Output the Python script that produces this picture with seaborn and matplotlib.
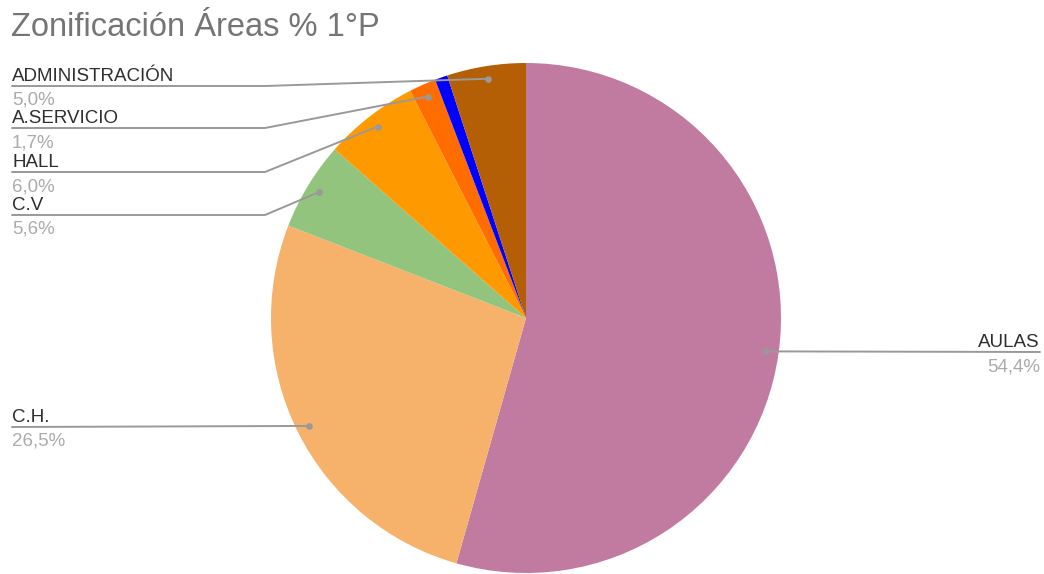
import matplotlib
matplotlib.use("Agg")
import matplotlib.pyplot as plt
import seaborn as sns
import numpy as np
from matplotlib.lines import Line2D

sns.set_theme(style="white")
plt.rcParams['font.family'] = ['Liberation Sans', 'DejaVu Sans']

categories = ["AULAS", "C.H.", "C.V", "HALL", "A.SERVICIO", "OTROS", "ADMINISTRACIÓN"]
values = [54.4, 26.5, 5.6, 6.0, 1.7, 0.8, 5.0]
pct_labels = ["54,4%", "26,5%", "5,6%", "6,0%", "1,7%", "", "5,0%"]
colors = ["#C27BA0", "#F6B26B", "#93C47D", "#FF9900", "#FF6D01", "#0000FF", "#B45F06"]
show_label = [True, True, True, True, True, False, True]

W, H = 1044, 574
fig = plt.figure(figsize=(W / 100, H / 100), dpi=100)
fig.patch.set_facecolor("white")

def fpx(x, y):
    return (x / W, 1 - y / H)

cx, cy, r = 526, 318, 255
ax = fig.add_axes([(cx - r) / W, 1 - (cy + r) / H, 2 * r / W, 2 * r / H])
wedges, _ = ax.pie(values, colors=colors, startangle=90, counterclock=False,
                   radius=1, wedgeprops=dict(linewidth=0))
ax.set_xlim(-1, 1)
ax.set_ylim(-1, 1)
ax.set_aspect("equal")
ax.axis("off")

fig.text(*fpx(11, 36), "Zonificación Áreas % 1°P", fontsize=23.5, color="#757575",
         ha="left", va="baseline")

# label layout (pixel positions): (side, line_y, bend_x)
layout = {
    "AULAS": ("right", 352, None),
    "C.H.": ("left", 427, None),
    "C.V": ("left", 215, 265),
    "HALL": ("left", 172, 265),
    "A.SERVICIO": ("left", 128, 265),
    "ADMINISTRACIÓN": ("left", 86, 265),
}

inv = fig.transFigure.inverted()
line_col = "#999999"
for w, name, pct, show in zip(wedges, categories, pct_labels, show_label):
    if not show:
        continue
    mid = np.deg2rad((w.theta1 + w.theta2) / 2)
    px_pt = ax.transData.transform((0.95 * np.cos(mid), 0.95 * np.sin(mid)))
    fx, fy = inv.transform(px_pt)
    side, ly, bx = layout[name]
    if side == "right":
        xs = [fx, 1040 / W]
        ys = [fy, 1 - ly / H]
        tx, ha = 1040, "right"
    else:
        if bx is None:
            xs = [fx, 12 / W]
            ys = [fy, 1 - ly / H]
        else:
            xs = [fx, bx / W, 12 / W]
            ys = [fy, 1 - ly / H, 1 - ly / H]
        tx, ha = 12, "left"
    fig.add_artist(Line2D(xs, ys, transform=fig.transFigure, color=line_col, lw=1.4))
    fig.add_artist(Line2D([fx], [fy], transform=fig.transFigure, marker="o",
                          markersize=3.8, color=line_col, lw=0))
    fig.text(*fpx(tx, ly - 5), name, fontsize=13.5, color="#2E2E2E", ha=ha, va="baseline")
    fig.text(*fpx(tx, ly + 19), pct, fontsize=13.5, color="#ABABAB", ha=ha, va="baseline")

fig.savefig("out.png", dpi=100, facecolor="white")
